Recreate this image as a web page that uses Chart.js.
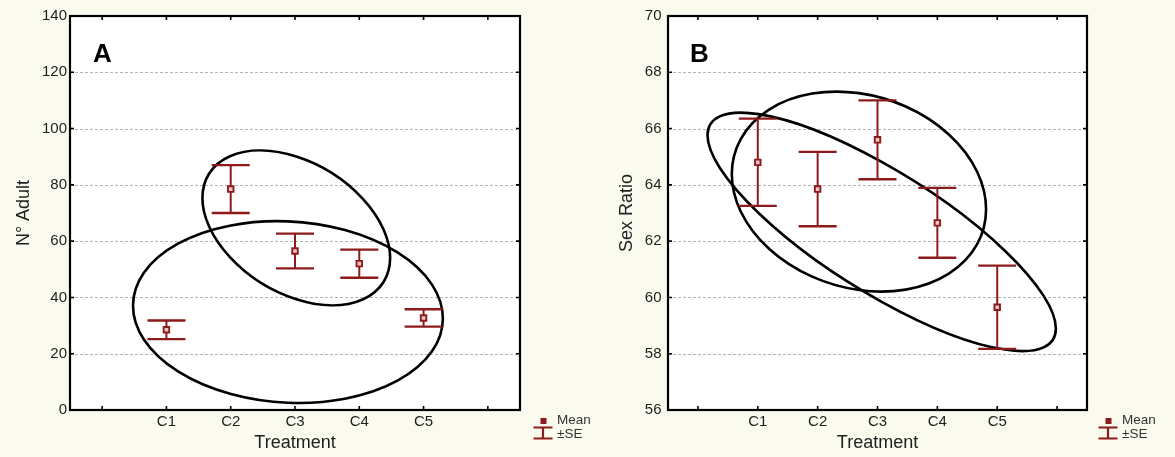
<!DOCTYPE html>
<html>
<head>
<meta charset="utf-8">
<script src="https://cdn.jsdelivr.net/npm/chart.js@4.4.1/dist/chart.umd.min.js"></script>
<style>
  html, body { margin: 0; padding: 0; background: #fbfaef; }
  #wrap { position: relative; width: 1175px; height: 457px; overflow: hidden; }
  .panel { position: absolute; top: 0; height: 457px; }
  canvas { display: block; }
</style>
</head>
<body>
<div id="wrap">
  <div class="panel" style="left:0;width:610px"><canvas id="chartA" width="610" height="457"></canvas></div>
  <div class="panel" style="left:587px;width:588px"><canvas id="chartB" width="588" height="457"></canvas></div>
</div>
<script>
// Treatments sit at x = 1..5; x = 0 and x = 6 are empty slots on the axis.
const treatments = ['C1', 'C2', 'C3', 'C4', 'C5'];
const xTickLabels = ['', 'C1', 'C2', 'C3', 'C4', 'C5', ''];

// Panel A: number of adults (mean ± SE)
const adultMean = [28.5, 78.5, 56.5, 52.0, 32.7];
const adultSE   = [3.3, 8.5, 6.2, 5.0, 3.1];
const adultTicks = [0, 20, 40, 60, 80, 100, 120, 140];

// Panel B: sex ratio (mean ± SE)
const sexMean = [64.8, 63.85, 65.6, 62.65, 59.65];
const sexSE   = [1.55, 1.32, 1.40, 1.24, 1.48];
const sexTicks = [56, 58, 60, 62, 64, 66, 68, 70];

// Grouping ellipses: centre (treatment index, value), half-range in x and y, correlation
const adultEllipseCx = [3.02, 2.89];
const adultEllipseCy = [64.7, 34.8];
const adultEllipseRx = [1.46, 2.41];
const adultEllipseRy = [27.5, 32.3];
const adultEllipseR  = [-0.387, -0.07];

const sexEllipseCx = [2.69, 3.07];
const sexEllipseCy = [63.76, 62.33];
const sexEllipseRx = [2.124, 2.91];
const sexEllipseRy = [3.554, 4.236];
const sexEllipseR  = [-0.176, -0.81];

const DARK_RED = '#8e1b1b';
const FONT = '"Liberation Sans", Arial, Helvetica, sans-serif';

// Frame, dashed grid, inward ticks, ellipses, error bars, legend and panel letter
const panelDecor = {
  id: 'panelDecor',
  beforeDraw(chart) {
    const { ctx, chartArea: a } = chart;
    ctx.save();
    ctx.fillStyle = '#ffffff';
    ctx.fillRect(a.left, a.top, a.right - a.left, a.bottom - a.top);
    ctx.restore();
  },
  beforeDatasetsDraw(chart) {
    const o = chart.options.plugins.panelDecor;
    const { ctx, chartArea: a } = chart;
    const xs = chart.scales.x, ys = chart.scales.y;

    // dashed horizontal grid lines
    ctx.save();
    ctx.strokeStyle = '#b4b4b4';
    ctx.lineWidth = 1;
    ctx.setLineDash([3, 2]);
    o.yTicks.slice(1, -1).forEach(v => {
      const y = Math.round(ys.getPixelForValue(v)) + 0.5;
      ctx.beginPath();
      ctx.moveTo(a.left, y);
      ctx.lineTo(a.right, y);
      ctx.stroke();
    });
    ctx.restore();

    // ellipses
    ctx.save();
    ctx.strokeStyle = '#000000';
    ctx.lineWidth = 2.6;
    const e = o.ellipses;
    for (let i = 0; i < e.cx.length; i++) {
      const px = xs.getPixelForValue(e.cx[i]);
      const py = ys.getPixelForValue(e.cy[i]);
      const ux = xs.getPixelForValue(e.cx[i] + e.rx[i]) - px;
      const uy = ys.getPixelForValue(e.cy[i] + e.r[i] * e.ry[i]) - py;
      const vy = ys.getPixelForValue(e.cy[i] + e.ry[i] * Math.sqrt(1 - e.r[i] * e.r[i])) - py;
      ctx.save();
      ctx.beginPath();
      ctx.transform(ux, uy, 0, vy, px, py);
      ctx.arc(0, 0, 1, 0, Math.PI * 2);
      ctx.restore();
      ctx.stroke();
    }
    ctx.restore();

    // error bars (mean ± SE)
    ctx.save();
    ctx.strokeStyle = DARK_RED;
    o.mean.forEach((m, i) => {
      const x = xs.getPixelForValue(i + 1);
      const yHi = ys.getPixelForValue(m + o.se[i]);
      const yLo = ys.getPixelForValue(m - o.se[i]);
      ctx.lineWidth = 2;
      ctx.beginPath();
      ctx.moveTo(x, yHi);
      ctx.lineTo(x, yLo);
      ctx.stroke();
      ctx.lineWidth = 2.3;
      ctx.beginPath();
      ctx.moveTo(x - 19, yHi); ctx.lineTo(x + 19, yHi);
      ctx.moveTo(x - 19, yLo); ctx.lineTo(x + 19, yLo);
      ctx.stroke();
    });
    ctx.restore();
  },
  afterDraw(chart) {
    const o = chart.options.plugins.panelDecor;
    const { ctx, chartArea: a } = chart;
    const xs = chart.scales.x, ys = chart.scales.y;

    // frame
    ctx.save();
    ctx.strokeStyle = '#000000';
    ctx.lineWidth = 2.2;
    ctx.strokeRect(a.left, a.top, a.right - a.left, a.bottom - a.top);

    // inward tick marks on all four sides
    ctx.lineWidth = 1.6;
    ctx.beginPath();
    xTickLabels.forEach((_, i) => {
      const x = xs.getPixelForValue(i);
      ctx.moveTo(x, a.top); ctx.lineTo(x, a.top + 4);
      ctx.moveTo(x, a.bottom); ctx.lineTo(x, a.bottom - 4);
    });
    o.yTicks.forEach(v => {
      const y = ys.getPixelForValue(v);
      ctx.moveTo(a.left, y); ctx.lineTo(a.left + 4, y);
      ctx.moveTo(a.right, y); ctx.lineTo(a.right - 4, y);
    });
    ctx.stroke();

    // panel letter
    ctx.fillStyle = '#000000';
    ctx.font = 'bold 26px ' + FONT;
    ctx.textBaseline = 'alphabetic';
    ctx.textAlign = 'left';
    ctx.fillText(o.letter, a.left + o.letterDx, a.top + 46);

    // legend
    const lx = a.right + o.legendDx;
    ctx.fillStyle = DARK_RED;
    ctx.fillRect(lx - 2.5, a.bottom + 8, 6, 6);
    ctx.strokeStyle = DARK_RED;
    ctx.lineWidth = 2.2;
    ctx.beginPath();
    ctx.moveTo(lx - 9.5, a.bottom + 17.5); ctx.lineTo(lx + 9.5, a.bottom + 17.5);
    ctx.moveTo(lx - 9.5, a.bottom + 28.5); ctx.lineTo(lx + 9.5, a.bottom + 28.5);
    ctx.moveTo(lx, a.bottom + 17.5); ctx.lineTo(lx, a.bottom + 28.5);
    ctx.stroke();
    ctx.fillStyle = '#333333';
    ctx.font = '13.5px ' + FONT;
    ctx.fillText('Mean', lx + 14, a.bottom + 14);
    ctx.fillText('\u00B1SE', lx + 14, a.bottom + 28);
    ctx.restore();
  }
};

function makePanel(canvasId, cfg) {
  return new Chart(document.getElementById(canvasId), {
    type: 'scatter',
    data: {
      datasets: [{
        label: 'Mean',
        data: cfg.mean.map((m, i) => ({ x: i + 1, y: m })),
        pointStyle: 'rect',
        pointRadius: 3.9,
        pointHoverRadius: 3.9,
        pointBorderWidth: 1.9,
        pointBorderColor: DARK_RED,
        pointBackgroundColor: '#e8c6c6'
      }]
    },
    options: {
      responsive: false,
      animation: false,
      events: [],
      layout: { padding: { top: 16, right: cfg.rightPad, left: 0, bottom: 0 } },
      plugins: {
        legend: { display: false },
        tooltip: { enabled: false },
        panelDecor: {
          mean: cfg.mean, se: cfg.se, yTicks: cfg.yTicks,
          ellipses: cfg.ellipses, letter: cfg.letter,
          letterDx: cfg.letterDx, legendDx: cfg.legendDx
        }
      },
      scales: {
        x: {
          type: 'linear',
          min: -0.5,
          max: 6.5,
          afterBuildTicks: s => { s.ticks = xTickLabels.map((_, i) => ({ value: i })); },
          afterFit: s => { s.height = 47; },
          grid: { display: false, drawTicks: false },
          border: { display: false },
          ticks: {
            padding: 3,
            color: '#1e1e1e',
            font: { family: FONT, size: 15 },
            callback: v => xTickLabels[v] ?? ''
          },
          title: {
            display: true,
            text: 'Treatment',
            color: '#1e1e1e',
            font: { family: FONT, size: 18 },
            padding: { top: 0, bottom: 3.2 }
          }
        },
        y: {
          type: 'linear',
          min: cfg.yTicks[0],
          max: cfg.yTicks[cfg.yTicks.length - 1],
          afterBuildTicks: s => { s.ticks = cfg.yTicks.map(v => ({ value: v })); },
          afterFit: s => { s.width = cfg.yAxisWidth; },
          grid: { display: false, drawTicks: false },
          border: { display: false },
          ticks: {
            padding: cfg.yTickPad,
            color: '#1e1e1e',
            font: { family: FONT, size: 15 }
          },
          title: {
            display: true,
            text: cfg.yTitle,
            color: '#1e1e1e',
            font: { family: FONT, size: 18 },
            padding: { top: cfg.yTitlePad, bottom: 0 }
          }
        }
      }
    },
    plugins: [panelDecor]
  });
}

makePanel('chartA', {
  mean: adultMean, se: adultSE, yTicks: adultTicks,
  yTitle: 'N\u00B0 Adult', letter: 'A',
  ellipses: { cx: adultEllipseCx, cy: adultEllipseCy, rx: adultEllipseRx, ry: adultEllipseRy, r: adultEllipseR },
  rightPad: 90, yAxisWidth: 70, yTickPad: 3, yTitlePad: 12.9, letterDx: 23, legendDx: 23
});

makePanel('chartB', {
  mean: sexMean, se: sexSE, yTicks: sexTicks,
  yTitle: 'Sex Ratio', letter: 'B',
  ellipses: { cx: sexEllipseCx, cy: sexEllipseCy, rx: sexEllipseRx, ry: sexEllipseRy, r: sexEllipseR },
  rightPad: 88, yAxisWidth: 81, yTickPad: 6.5, yTitlePad: 28.9, letterDx: 22, legendDx: 21
});
</script>
</body>
</html>
